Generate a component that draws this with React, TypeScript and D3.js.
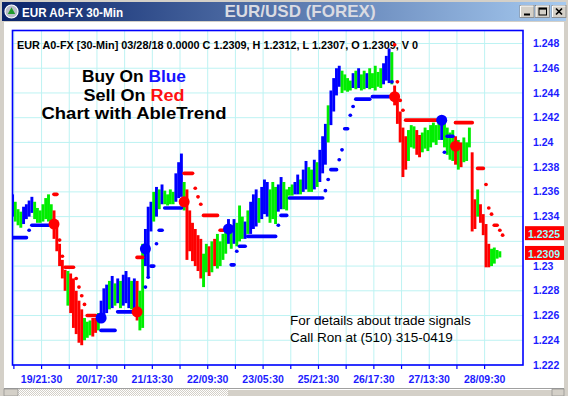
import React, { useEffect } from 'react';
import * as d3 from 'd3';

// ---- bar data (one bar per hour, k = 0..176) ----
const barHigh = [
  1.2358, 1.2352, 1.2346, 1.2344, 1.2348, 1.2350, 1.2353, 1.2356, 1.2352, 1.2347,
  1.2345, 1.2350, 1.2355, 1.2358, 1.2350, 1.2345, 1.2335, 1.2318, 1.2305, 1.2297,
  1.2296, 1.2294, 1.2290, 1.2280, 1.2272, 1.2265, 1.2258, 1.2255, 1.2256, 1.2258,
  1.2258, 1.2262, 1.2272, 1.2282, 1.2285, 1.2288, 1.2292, 1.2286, 1.2290, 1.2288,
  1.2293, 1.2296, 1.2291, 1.2288, 1.2290, 1.2288, 1.2280, 1.2318, 1.2330, 1.2348,
  1.2352, 1.2360, 1.2364, 1.2362, 1.2366, 1.2361, 1.2358, 1.2362, 1.2360, 1.2375,
  1.2384, 1.2391, 1.2368, 1.2362, 1.2345, 1.2335, 1.2330, 1.2325, 1.2322, 1.2310,
  1.2318, 1.2316, 1.2320, 1.2322, 1.2326, 1.2320, 1.2326, 1.2328, 1.2338, 1.2333,
  1.2338, 1.2335, 1.2349, 1.2340, 1.2336, 1.2345, 1.2352, 1.2358, 1.2362, 1.2355,
  1.2364, 1.2370, 1.2368, 1.2362, 1.2368, 1.2364, 1.2366, 1.2372, 1.2368, 1.2362,
  1.2364, 1.2366, 1.2368, 1.2374, 1.2370, 1.2378, 1.2385, 1.2380, 1.2378, 1.2386,
  1.2384, 1.2394, 1.2405, 1.2415, 1.2430, 1.2442, 1.2452, 1.2460, 1.2462, 1.2458,
  1.2455, 1.2452, 1.2450, 1.2456, 1.2458, 1.2460, 1.2455, 1.2458, 1.2456, 1.2460,
  1.2456, 1.2462, 1.2457, 1.2460, 1.2464, 1.2470, 1.2476, 1.2473, 1.2446, 1.2438,
  1.2425, 1.2412, 1.2405, 1.2410, 1.2414, 1.2413, 1.2410, 1.2406, 1.2408, 1.2412,
  1.2410, 1.2414, 1.2416, 1.2414, 1.2417, 1.2421, 1.2418, 1.2412, 1.2408, 1.2410,
  1.2405, 1.2402, 1.2400, 1.2404, 1.2400, 1.2412, 1.2392, 1.2354, 1.2362, 1.2350,
  1.2342, 1.2334, 1.2318, 1.2314, 1.2315, 1.2313, 1.2312,
];

const barLow = [
  1.2340, 1.2336, 1.2333, 1.2331, 1.2334, 1.2338, 1.2340, 1.2343, 1.2338, 1.2335,
  1.2335, 1.2336, 1.2338, 1.2336, 1.2335, 1.2322, 1.2312, 1.2300, 1.2290, 1.2280,
  1.2268, 1.2262, 1.2250, 1.2245, 1.2238, 1.2236, 1.2240, 1.2242, 1.2244, 1.2243,
  1.2246, 1.2248, 1.2255, 1.2260, 1.2262, 1.2265, 1.2266, 1.2268, 1.2270, 1.2266,
  1.2268, 1.2270, 1.2266, 1.2265, 1.2266, 1.2256, 1.2248, 1.2250, 1.2300, 1.2292,
  1.2328, 1.2336, 1.2340, 1.2346, 1.2350, 1.2350, 1.2349, 1.2350, 1.2350, 1.2352,
  1.2355, 1.2356, 1.2345, 1.2305, 1.2312, 1.2304, 1.2300, 1.2296, 1.2290, 1.2283,
  1.2295, 1.2292, 1.2295, 1.2300, 1.2298, 1.2300, 1.2305, 1.2310, 1.2318, 1.2314,
  1.2318, 1.2316, 1.2320, 1.2322, 1.2322, 1.2326, 1.2326, 1.2330, 1.2332, 1.2335,
  1.2338, 1.2342, 1.2340, 1.2335, 1.2338, 1.2334, 1.2344, 1.2346, 1.2346, 1.2345,
  1.2357, 1.2357, 1.2358, 1.2358, 1.2358, 1.2360, 1.2362, 1.2360, 1.2360, 1.2362,
  1.2364, 1.2368, 1.2375, 1.2382, 1.2400, 1.2414, 1.2425, 1.2438, 1.2445, 1.2440,
  1.2442, 1.2441, 1.2442, 1.2444, 1.2443, 1.2444, 1.2442, 1.2443, 1.2444, 1.2443,
  1.2444, 1.2442, 1.2445, 1.2444, 1.2447, 1.2450, 1.2448, 1.2447, 1.2430, 1.2415,
  1.2400, 1.2372, 1.2378, 1.2385, 1.2396, 1.2395, 1.2390, 1.2388, 1.2392, 1.2395,
  1.2393, 1.2396, 1.2400, 1.2398, 1.2402, 1.2402, 1.2396, 1.2390, 1.2386, 1.2385,
  1.2382, 1.2378, 1.2380, 1.2384, 1.2385, 1.2396, 1.2328, 1.2330, 1.2340, 1.2335,
  1.2325, 1.2299, 1.2299, 1.2300, 1.2302, 1.2306, 1.2307,
];

// b = blue (up), g = green (neutral), r = red (down)
const barColor = [
  'b', 'g', 'g', 'g', 'b', 'b', 'b', 'b', 'g', 'g',
  'g', 'g', 'g', 'g', 'g', 'r', 'r', 'r', 'r', 'r',
  'g', 'r', 'r', 'r', 'r', 'r', 'g', 'g', 'g', 'r',
  'r', 'g', 'b', 'b', 'b', 'g', 'b', 'g', 'b', 'g',
  'b', 'b', 'b', 'g', 'b', 'r', 'g', 'g', 'b', 'b',
  'b', 'g', 'b', 'g', 'b', 'g', 'g', 'g', 'g', 'b',
  'b', 'b', 'g', 'r', 'r', 'r', 'r', 'r', 'r', 'g',
  'g', 'r', 'g', 'r', 'g', 'g', 'g', 'g', 'b', 'g',
  'b', 'g', 'g', 'g', 'b', 'g', 'b', 'b', 'b', 'g',
  'b', 'b', 'b', 'g', 'g', 'g', 'b', 'b', 'g', 'g',
  'g', 'g', 'b', 'b', 'g', 'b', 'b', 'g', 'g', 'b',
  'g', 'b', 'b', 'b', 'g', 'b', 'b', 'b', 'b', 'g',
  'g', 'g', 'g', 'b', 'g', 'b', 'g', 'g', 'b', 'g',
  'g', 'g', 'g', 'g', 'b', 'b', 'b', 'g', 'r', 'r',
  'r', 'r', 'r', 'g', 'g', 'g', 'r', 'r', 'g', 'g',
  'g', 'g', 'g', 'g', 'g', 'b', 'g', 'g', 'g', 'g',
  'r', 'g', 'r', 'g', 'g', 'g', 'r', 'r', 'g', 'r',
  'r', 'r', 'r', 'g', 'g', 'g', 'g',
];

// ---- trailing stop runs (bar from..to at a price) ----
const stopFrom = [
  0, 6, 7,
  15, 17, 18, 19, 23, 24, 25, 26, 27,
  32, 38,
  45,
  48, 49, 50, 52, 53, 55,
  62, 66, 67, 68, 69, 75,
  79, 81, 82, 85, 96, 97, 100, 113, 114, 115, 118, 119, 120, 122, 123, 124, 130, 137,
  138, 139, 140, 141, 142,
  156, 157,
  160, 168, 171, 172, 173, 174, 176, 177,
];
const stopTo = [
  5, 6, 13,
  16, 17, 18, 22, 23, 24, 25, 26, 30,
  37, 44,
  47,
  48, 49, 51, 52, 54, 61,
  65, 66, 67, 68, 74, 77,
  80, 81, 84, 95, 96, 99, 112, 113, 114, 117, 118, 119, 121, 122, 123, 129, 136, 137,
  138, 139, 140, 141, 154,
  156, 159,
  166, 170, 171, 172, 173, 175, 176, 177,
];
const stopValue = [
  1.2323, 1.2329, 1.2333,
  1.2358, 1.2321, 1.2308, 1.2299, 1.2290, 1.2283, 1.2276, 1.2269, 1.2260,
  1.2248, 1.2263,
  1.2307,
  1.2283, 1.2291, 1.2300, 1.2318, 1.2329, 1.2347,
  1.2375, 1.2363, 1.2356, 1.2350, 1.2341, 1.2329,
  1.2301, 1.2312, 1.2316, 1.2324, 1.2333, 1.2341, 1.2355, 1.2361, 1.2370, 1.2378, 1.2386, 1.2394, 1.2411, 1.2422, 1.2429, 1.2435, 1.2437, 1.2449,
  1.2479, 1.2449, 1.2434, 1.2426, 1.2418,
  1.2392, 1.2405,
  1.2416, 1.2379, 1.2366, 1.2347, 1.2342, 1.2333, 1.2329, 1.2325,
];
const stopColor = [
  'b', 'b', 'b',
  'r', 'r', 'r', 'r', 'r', 'r', 'r', 'r', 'r',
  'b', 'b',
  'r',
  'b', 'b', 'b', 'b', 'b', 'b',
  'r', 'r', 'r', 'r', 'r', 'r',
  'b', 'b', 'b', 'b', 'b', 'b', 'b', 'b', 'b', 'b', 'b', 'b', 'b', 'b', 'b', 'b', 'b', 'b',
  'r', 'r', 'r', 'r', 'r',
  'b', 'b',
  'r', 'r', 'r', 'r', 'r', 'r', 'r', 'r',
];

// ---- buy / sell signals ----
const signalBar = [15, 32, 45, 48, 62, 78, 138, 155, 160];
const signalValue = [1.2334, 1.2258, 1.2263, 1.2314, 1.2352, 1.2330, 1.2437, 1.2418, 1.2397];
const signalColor = ['r', 'b', 'r', 'b', 'r', 'b', 'r', 'b', 'r'];

// ---- axes ----
const priceTicks = [1.222, 1.224, 1.226, 1.228, 1.23, 1.232, 1.234, 1.236, 1.238, 1.24, 1.242, 1.244, 1.246, 1.248];
const timeTickIdx = [1, 21, 41, 61, 81, 101, 121, 141, 161, 181, 201, 221, 241, 261, 281, 301, 321, 341];
const timeLabelIdx = [21, 61, 101, 141, 181, 221, 261, 301, 341];
const timeLabels = ['19/21:30', '20/17:30', '21/13:30', '22/09:30', '23/05:30', '25/21:30', '26/17:30', '27/13:30', '28/09:30'];
const lastMarks = [1.2325, 1.2309];

const COL: Record<string, string> = { b: '#0000ff', g: '#00ee00', r: '#ff0000' };
const FONT = "'Liberation Sans', Arial, Helvetica, sans-serif";
const AXIS_BLUE = '#1c1cff';

const PL = 12.5, PR = 523, PT = 30.5, PB = 365;

export default function App() {
  useEffect(() => {
    document.body.style.margin = '0';
  }, []);

  const x = d3.scaleLinear().domain([0, 368]).range([12.5, 522]);
  const y = d3.scaleLinear().domain([1.222, 1.248]).range([365, 43.5]);
  const bx = (k: number) => x(k * 2);

  // price-axis labels hidden behind the last-value boxes (as in the reference)
  const visibleTicks = priceTicks.filter((p) =>
    lastMarks.every((m) => Math.abs(y(p) - (y(m) - 2)) > 9)
  );

  const btnX = [520, 535.5, 552];

  return (
    <svg
      width={568}
      height={396}
      style={{ position: 'absolute', left: 0, top: 0, display: 'block' }}
      fontFamily={FONT}
    >
      <defs>
        <linearGradient id="tb" x1="0" x2="1" y1="0" y2="0">
          <stop offset="0" stopColor="#0a246a" />
          <stop offset="1" stopColor="#a6caf0" />
        </linearGradient>
        <pattern id="hatch" width="2" height="2" patternUnits="userSpaceOnUse">
          <rect width="2" height="2" fill="#ffffff" />
          <rect width="1" height="1" fill="#d4d0c8" />
          <rect x="1" y="1" width="1" height="1" fill="#d4d0c8" />
        </pattern>
        <clipPath id="plotClip">
          <rect x={PL} y={PT} width={PR - PL} height={PB - PT} />
        </clipPath>
      </defs>

      {/* window frame */}
      <rect width={568} height={396} fill="#d4d0c8" />
      <rect x={2} y={2} width={564} height={19} fill="url(#tb)" />
      <circle cx={11.5} cy={11.5} r={6.5} fill="#b9bdc9" stroke="#ffffff" strokeWidth={1.2} />
      <path d="M11.5 7.2 L15.2 14 L7.8 14 Z" fill="#1f9a2c" />
      <text x={22} y={16.5} fill="#ffffff" fontWeight="bold" fontSize={12.5} textLength={101} lengthAdjust="spacingAndGlyphs">
        EUR A0-FX 30-Min
      </text>
      <text x={300} y={17} textAnchor="middle" fill="#dadbe2" fontWeight="bold" fontSize={17}>
        EUR/USD (FOREX)
      </text>
      {btnX.map((bxp, i) => (
        <g key={'btn' + i}>
          <rect x={bxp} y={5.5} width={14} height={12} fill="#d4d0c8" stroke="#808080" strokeWidth={0.8} />
          <path d={`M${bxp + 0.5} ${17} L${bxp + 0.5} ${6} L${bxp + 13.5} ${6}`} stroke="#ffffff" fill="none" strokeWidth={1} />
          {i === 0 && <rect x={bxp + 4} y={13.5} width={6} height={2} fill="#000" />}
          {i === 1 && (
            <g>
              <rect x={bxp + 3.5} y={8} width={7.5} height={7} fill="none" stroke="#000" strokeWidth={1} />
              <rect x={bxp + 3.5} y={8} width={7.5} height={1.6} fill="#000" />
            </g>
          )}
          {i === 2 && (
            <path d={`M${bxp + 4} ${8.5} L${bxp + 10} ${14.5} M${bxp + 10} ${8.5} L${bxp + 4} ${14.5}`} stroke="#000" strokeWidth={1.7} />
          )}
        </g>
      ))}

      {/* client area */}
      <rect x={4} y={22} width={560} height={366} fill="#ffffff" />

      {/* scroll bar */}
      <line x1={4} x2={564} y1={388.5} y2={388.5} stroke="#a0a0a0" strokeWidth={1} />
      <rect x={4} y={389} width={560} height={7} fill="url(#hatch)" />
      <rect x={4} y={389} width={14} height={7} fill="#d4d0c8" stroke="#808080" strokeWidth={0.6} />
      <rect x={228} y={389} width={324} height={7} fill="#d4d0c8" />
      <line x1={228} x2={552} y1={389.5} y2={389.5} stroke="#ffffff" strokeWidth={1} />
      <rect x={552} y={389} width={12} height={7} fill="#d4d0c8" stroke="#808080" strokeWidth={0.6} />

      {/* grid */}
      {timeTickIdx.map((t) => (
        <line key={'vg' + t} x1={x(t)} x2={x(t)} y1={PT} y2={PB} stroke="#bdf3f3" strokeWidth={1} />
      ))}
      {priceTicks.map((p) => (
        <line key={'hg' + p} x1={PL} x2={PR} y1={y(p)} y2={y(p)} stroke="#bdf3f3" strokeWidth={1} />
      ))}

      {/* texts inside plot */}
      <text x={17} y={48.5} fontSize={11} fontWeight="bold" fill="#000" textLength={401} lengthAdjust="spacingAndGlyphs">
        EUR A0-FX [30-Min] 03/28/18  0.0000 C 1.2309, H 1.2312, L 1.2307, O 1.2309, V 0
      </text>
      <text x={82} y={81.5} fontSize={16} fontWeight="bold" textLength={104} lengthAdjust="spacingAndGlyphs">
        <tspan fill="#000">Buy On </tspan>
        <tspan fill="#1414ff">Blue</tspan>
      </text>
      <text x={83.5} y={100.5} fontSize={16} fontWeight="bold" textLength={101} lengthAdjust="spacingAndGlyphs">
        <tspan fill="#000">Sell On </tspan>
        <tspan fill="#ff1010">Red</tspan>
      </text>
      <text x={41.5} y={119} fontSize={16} fontWeight="bold" fill="#000" textLength={185} lengthAdjust="spacingAndGlyphs">
        Chart with AbleTrend
      </text>
      <text x={290} y={324.5} fontSize={13.5} fill="#000">
        For details about trade signals
      </text>
      <text x={290} y={341.5} fontSize={13.5} fill="#000">
        Call Ron at (510) 315-0419
      </text>

      {/* price bars, stops, signals */}
      <g clipPath="url(#plotClip)">
        {barHigh.map((h, k) => {
          const y1 = y(h);
          const y2 = y(barLow[k]);
          return (
            <rect
              key={'bar' + k}
              x={bx(k) - 1.45}
              y={y1}
              width={2.9}
              height={Math.max(1, y2 - y1)}
              fill={COL[barColor[k]]}
            />
          );
        })}
        {stopFrom.map((f, i) => (
          <rect
            key={'stop' + i}
            x={bx(f) - 1.9}
            y={y(stopValue[i]) - 1.8}
            width={bx(stopTo[i]) - bx(f) + 3.8}
            height={3.6}
            rx={1.8}
            fill={COL[stopColor[i]]}
          />
        ))}
        {signalBar.map((k, i) => (
          <circle key={'sig' + i} cx={bx(k)} cy={y(signalValue[i])} r={5.5} fill={COL[signalColor[i]]} />
        ))}
      </g>

      {/* plot border and bottom ticks */}
      <rect x={PL} y={PT} width={PR - PL} height={PB - PT} fill="none" stroke="#0000ff" strokeWidth={1.6} />
      {timeTickIdx.map((t) => (
        <line key={'tk' + t} x1={x(t)} x2={x(t)} y1={PB} y2={PB + 4} stroke="#0000ff" strokeWidth={1.2} />
      ))}
      {timeLabelIdx.map((t, i) => (
        <text key={'tl' + t} x={x(t)} y={382.5} textAnchor="middle" fontSize={10.5} fontWeight="bold" fill={AXIS_BLUE}>
          {timeLabels[i]}
        </text>
      ))}

      {/* right price axis */}
      {visibleTicks.map((p) => (
        <text key={'pl' + p} x={533} y={y(p) + 3.6} fontSize={10.5} fontWeight="bold" fill={AXIS_BLUE}>
          {String(p)}
        </text>
      ))}
      {lastMarks.map((p) => (
        <g key={'lm' + p}>
          <rect x={525} y={y(p) - 9} width={39} height={14} fill="#ff0000" />
          <text x={528} y={y(p) + 3} fontSize={10.5} fontWeight="bold" fill="#99ffff">
            {String(p)}
          </text>
        </g>
      ))}
    </svg>
  );
}
